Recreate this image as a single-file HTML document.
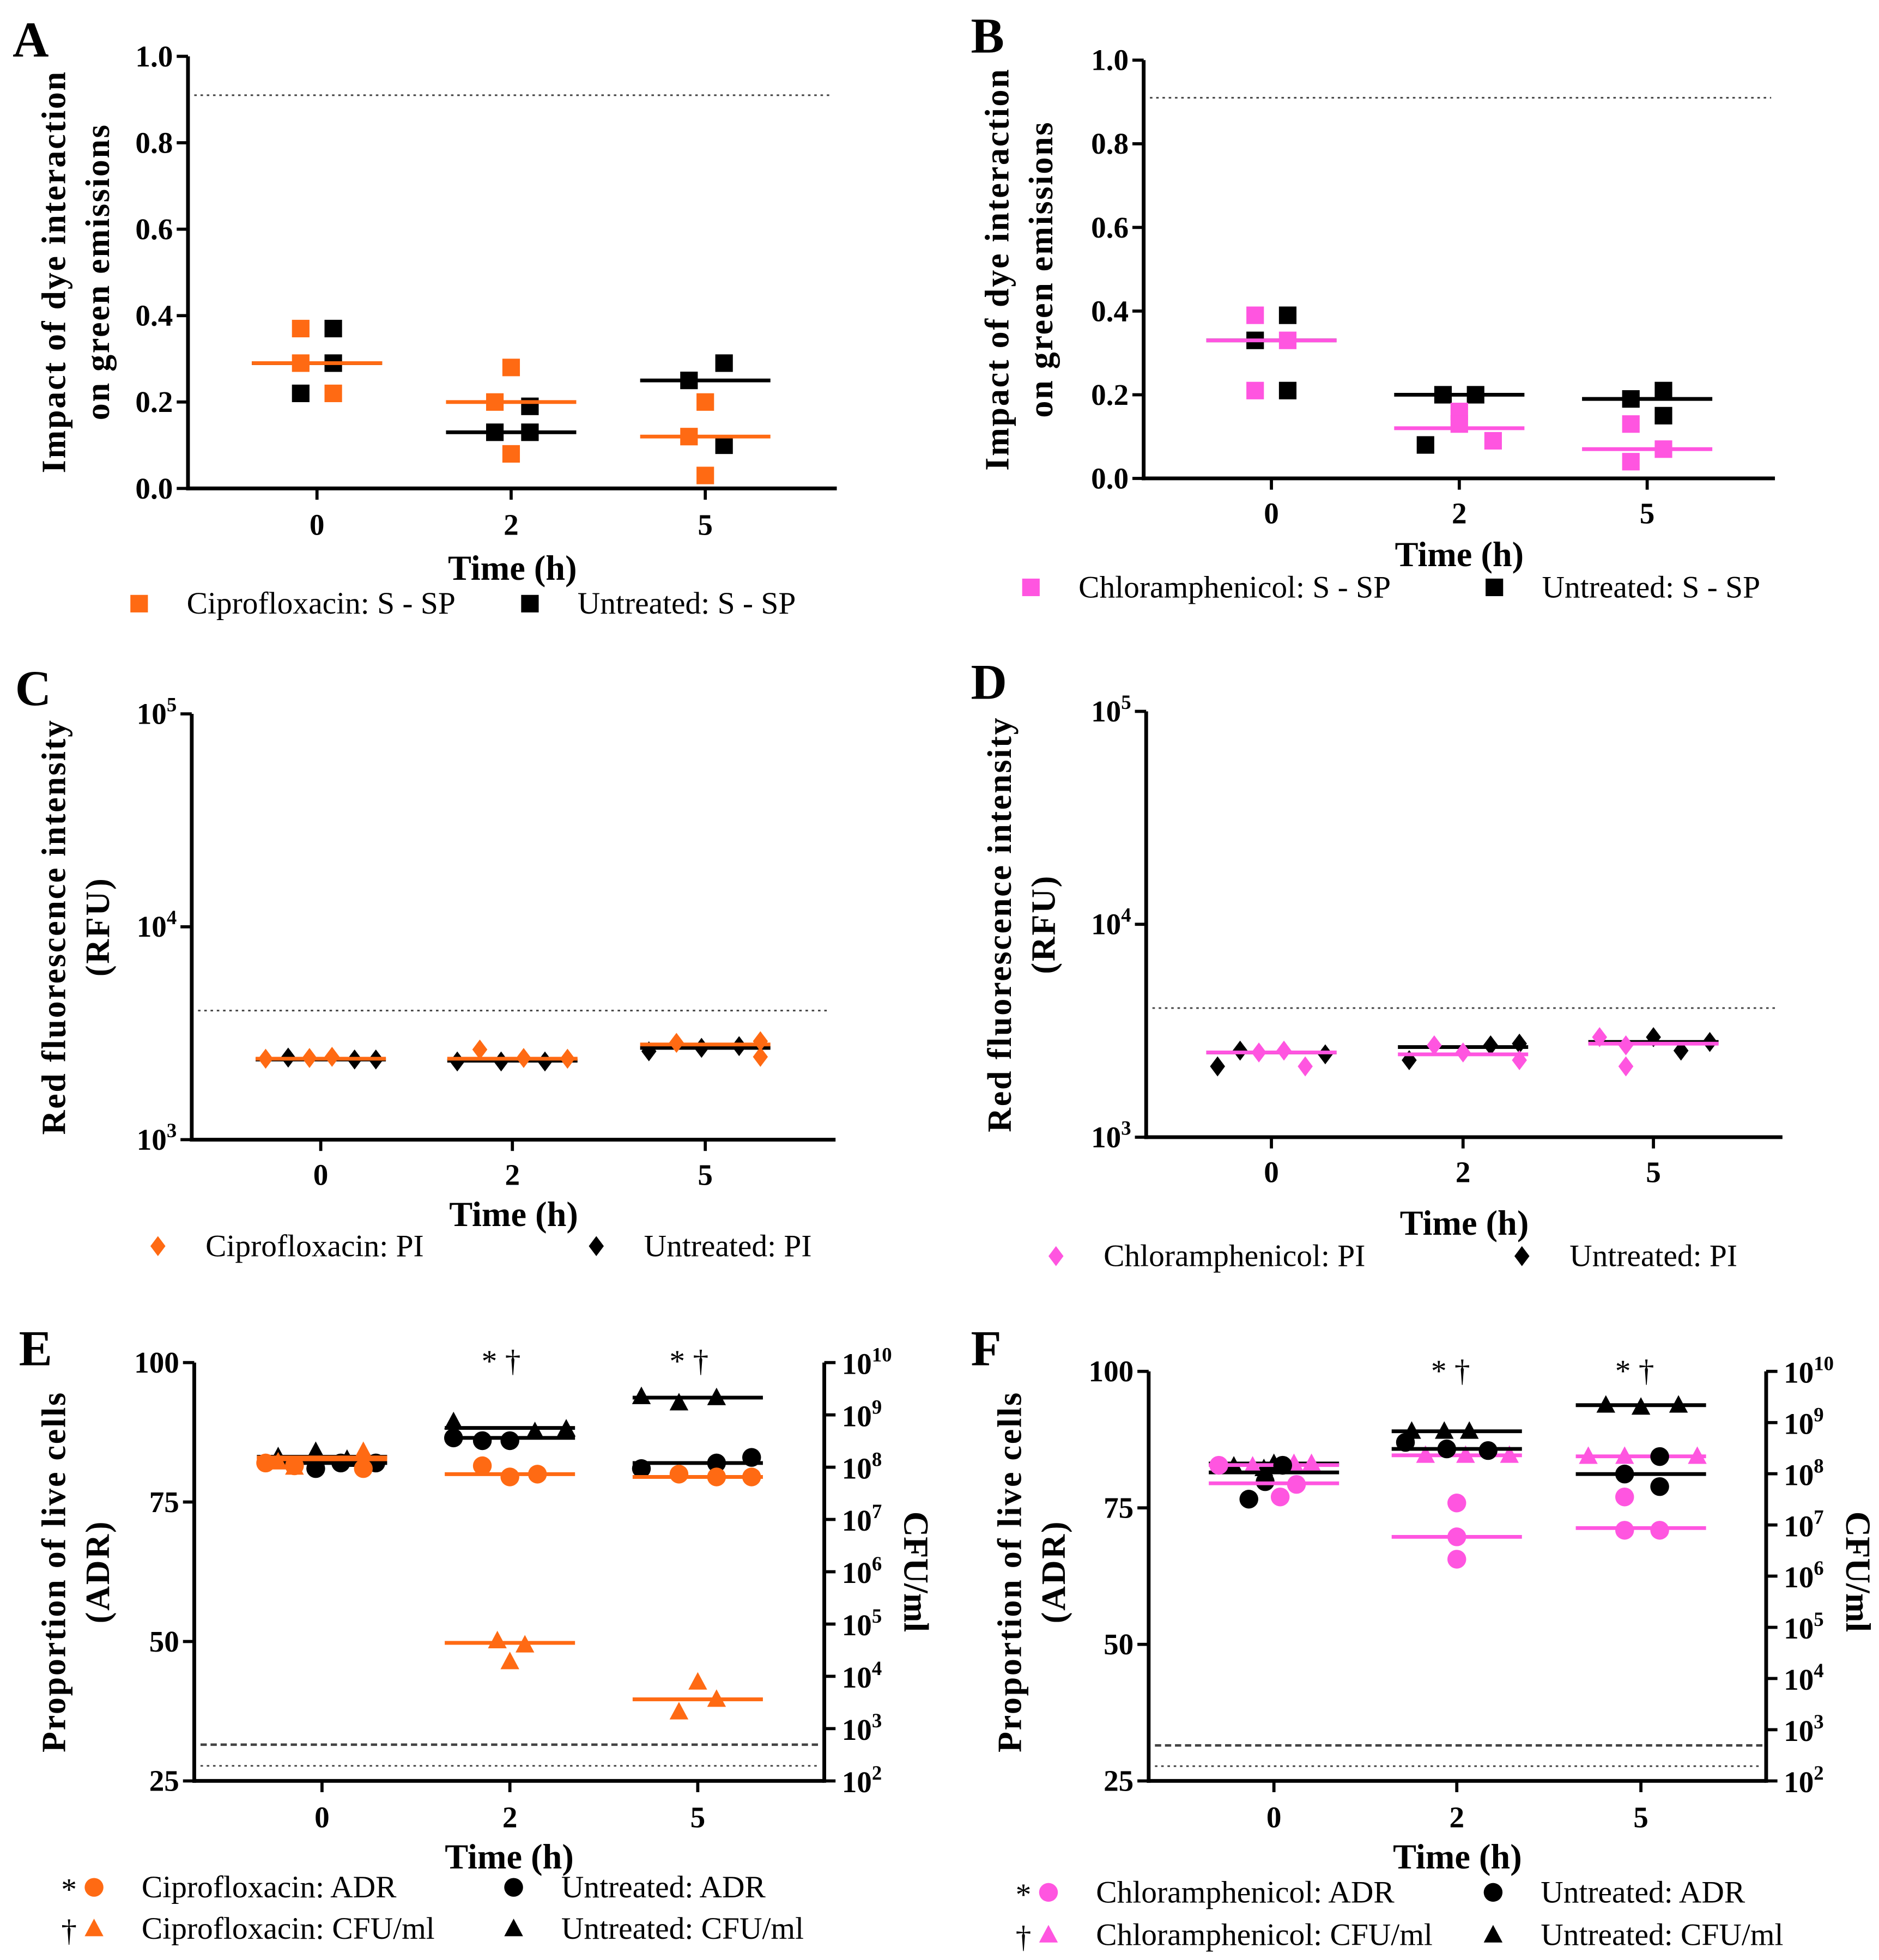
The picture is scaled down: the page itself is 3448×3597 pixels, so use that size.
<!DOCTYPE html>
<html><head><meta charset="utf-8">
<style>
html,body{margin:0;padding:0;background:#fff;}
svg{display:block;}
text{font-family:"Liberation Serif",serif;fill:#000;}
.tick{font-size:24px;font-weight:bold;}
.ttl{font-size:28px;font-weight:bold;}
.yttl{font-size:27px;font-weight:bold;letter-spacing:1.2px;}
.leg{font-size:25px;}
.pl{font-size:40px;font-weight:bold;}
</style></head>
<body>
<svg id="fig" width="3448" height="3597" viewBox="0 0 1500 1565" xmlns="http://www.w3.org/2000/svg"></svg>
<script>
// ---- data (values per time point: 0h, 2h, 5h) ----
const times = ["0","2","5"];
const aCipro = [[0.37,0.29,0.22],[0.28,0.20,0.08],[0.20,0.12,0.03]];
const aCiproMed = [0.29,0.20,0.12];
const aUntr = [[0.37,0.29,0.22],[0.19,0.13,0.13],[0.25,0.29,0.10]];
const aUntrMed = [0.29,0.13,0.25];
const bChlor = [[0.39,0.33,0.21],[0.16,0.13,0.09],[0.13,0.07,0.04]];
const bChlorMed = [0.33,0.12,0.07];
const bUntr = [[0.39,0.33,0.21],[0.20,0.20,0.08],[0.19,0.21,0.15]];
const bUntrMed = [0.33,0.20,0.19];
const cCipro = [[2400,2420,2450],[2650,2420,2400],[2850,2900,2450]];
const cCiproMed = [2400,2400,2800];
const cUntr = [[2430,2380,2380],[2330,2330,2330],[2600,2700,2750]];
const cUntrMed = [2380,2350,2700];
const dChlor = [[2500,2550,2150],[2700,2500,2300],[2950,2700,2150]];
const dChlorMed = [2500,2450,2750];
const dUntr = [[2150,2550,2450],[2300,2700,2750],[2950,2550,2800]];
const dUntrMed = [2500,2650,2800];
const eCiproAdr = [[82,81.5,81],[81.5,79.5,80],[80,79.5,79.5]];
const eCiproAdrMed = [83,80,79.5];
const eUntrAdr = [[81,82,82],[86.5,86,86],[81,82,83]];
const eUntrAdrMed = [82,86.5,82];
const eCiproCfu = [[8.1,8.0,8.3],[4.68,4.28,4.6],[3.32,3.89,3.56]];
const eCiproCfuMed = [8.15,4.64,3.56];
const eUntrCfu = [[8.2,8.3,8.15],[8.87,8.68,8.73],[9.35,9.23,9.33]];
const eUntrCfuMed = [8.2,8.75,9.33];
const fChlorAdr = [[82.8,77,79.3],[75.9,69.7,65.6],[77,70.9,70.9]];
const fChlorAdrMed = [79.5,69.7,71.3];
const fUntrAdr = [[76.6,82.8,79.8],[87,85.8,85.5],[81.2,84.4,78.9]];
const fUntrAdrMed = [81.5,85.8,81.2];
const fChlorCfu = [[8.15,8.2,8.2],[8.36,8.36,8.36],[8.34,8.34,8.34]];
const fChlorCfuMed = [8.17,8.36,8.34];
const fUntrCfu = [[8.15,8.1,8.2],[8.83,8.83,8.83],[9.34,9.3,9.34]];
const fUntrCfuMed = [8.2,8.83,9.34];

const ORANGE="#ff6a13", PINK="#ff55e0", BLACK="#000";
const NS="http://www.w3.org/2000/svg";
const svg=document.getElementById('fig');
function el(tag,attrs,parent){const e=document.createElementNS(NS,tag);for(const k in attrs)e.setAttribute(k,attrs[k]);(parent||svg).appendChild(e);return e;}
function txt(x,y,s,cls,anchor,parent){const t=el('text',{x:x,y:y,class:cls,'text-anchor':anchor||'start'},parent);t.textContent=s;return t;}

function linScale(min,max,yb,yt){return v=>yb-(v-min)/(max-min)*(yb-yt);}
function logScale(lmin,lmax,yb,yt){return v=>yb-(Math.log10(v)-lmin)/(lmax-lmin)*(yb-yt);}
function expScale(lmin,lmax,yb,yt){return v=>yb-(v-lmin)/(lmax-lmin)*(yb-yt);}

function marker(g,shape,x,y,color){
  let m;
  if(shape==='sq') m=el('rect',{x:x-7,y:y-7,width:14,height:14,fill:color},g);
  else if(shape==='di') m=el('polygon',{points:`${x},${y-8} ${x+6},${y} ${x},${y+8} ${x-6},${y}`,fill:color},g);
  else if(shape==='ci') m=el('circle',{cx:x,cy:y,r:7.5,fill:color},g);
  else m=el('polygon',{points:`${x},${y-8} ${x+7.5},${y+6} ${x-7.5},${y+6}`,fill:color},g);
  
  
  return m;
}
function series(g,name,vals,med,xs,dx,scale,shape,color){
  const sg=el('g',{},g);
  
  
  vals.forEach((arr,i)=>{
    const ml=el('line',{x1:xs[i]-52,x2:xs[i]+52,y1:scale(med[i]),y2:scale(med[i]),stroke:color,'stroke-width':3},sg);
    
    
    arr.forEach((v,j)=>marker(sg,shape,xs[i]+dx[i][j],scale(v),color));
  });
}
function axes(g,x0,x1,yb,yt,xs,xlabY,timeY){
  el('line',{x1:x0,x2:x0,y1:yt,y2:yb+1.5,stroke:'#000','stroke-width':3},g);
  el('line',{x1:x0-1.5,x2:x1,y1:yb,y2:yb,stroke:'#000','stroke-width':3},g);
  xs.forEach((x,i)=>{el('line',{x1:x,x2:x,y1:yb,y2:yb+9,stroke:'#000','stroke-width':2.5},g);
    const t=txt(x,xlabY,times[i],'tick','middle',g);});
  const tt=txt((x0+x1)/2,timeY,'Time (h)','ttl','middle',g);
}
function ytick(g,x,y,label,sup){
  el('line',{x1:x-9,x2:x,y1:y,y2:y,stroke:'#000','stroke-width':2.5},g);
  const t=txt(x-12,y+8,label,'tick','end',g);
  if(sup){const ts=el('tspan',{dy:-10,'font-size':16},t);ts.textContent=sup;}
  
}
function rytick(g,x,y,sup){
  el('line',{x1:x,x2:x+9,y1:y,y2:y,stroke:'#000','stroke-width':2.5},g);
  const t=txt(x+14,y+9,'10','tick','start',g);
  const ts=el('tspan',{dy:-10,'font-size':16},t);ts.textContent=sup;
  
}
function ytitle(g,cx,cy,lines,gap){
  lines.forEach((s,i)=>{const t=txt(0,0,s,'yttl','middle',g);t.setAttribute('transform',`translate(${cx+i*gap},${cy}) rotate(-90)`);
    });
}
function hline(g,x0,x1,y,dash,w){el('line',{x1:x0,x2:x1,y1:y,y2:y,stroke:'#444','stroke-width':w||1.3,'stroke-dasharray':dash},g);}
function legend(g,x,y,shape,color,label,pre){
  const lg=el('g',{},g);
  
  
  marker(lg,shape,x,y-8,color);
  if(pre)txt(x-20,y+2,pre,'leg','middle',lg);
  txt(x+38,y,label,'leg','start',lg);
}
function panelLetter(x,y,s){const t=txt(x,y,s,'pl','start');}

// ---- Panel A ----
(function(){
  const g=el('g',{});
  const xs=[253,408,563], s=linScale(0,1,390,45);
  [0,0.2,0.4,0.6,0.8,1.0].forEach(v=>ytick(g,150,s(v),v.toFixed(1)));
  hline(g,155,665,s(0.91),'2 3');
  series(g,'series-untreated',aUntr,aUntrMed,xs,[[13,13,-13],[15,-13,15],[-13,15,15]],s,'sq',BLACK);
  series(g,'series-ciprofloxacin',aCipro,aCiproMed,xs,[[-13,-13,13],[0,-13,0],[0,-13,0]],s,'sq',ORANGE);
  axes(g,150,668,390,45,xs,427,463);
  ytitle(g,52,217,['Impact of dye interaction','on green emissions'],35);
  legend(g,111,490,'sq',ORANGE,'Ciprofloxacin: S - SP');
  legend(g,423,490,'sq',BLACK,'Untreated: S - SP');
  panelLetter(10,45,'A');
})();
// ---- Panel B ----
(function(){
  const g=el('g',{});
  const xs=[1015,1165,1315], s=linScale(0,1,382,48);
  [0,0.2,0.4,0.6,0.8,1.0].forEach(v=>ytick(g,913,s(v),v.toFixed(1)));
  hline(g,918,1414,s(0.91),'2 3');
  series(g,'series-untreated',bUntr,bUntrMed,xs,[[13,-13,13],[-13,13,-27],[-13,13,13]],s,'sq',BLACK);
  series(g,'series-chloramphenicol',bChlor,bChlorMed,xs,[[-13,13,-13],[0,0,27],[-13,13,-13]],s,'sq',PINK);
  axes(g,913,1417,382,48,xs,418,452);
  ytitle(g,805,215,['Impact of dye interaction','on green emissions'],35);
  legend(g,823,477,'sq',PINK,'Chloramphenicol: S - SP');
  legend(g,1193,477,'sq',BLACK,'Untreated: S - SP');
  panelLetter(775,42,'B');
})();
// ---- Panel C ----
(function(){
  const g=el('g',{});
  const xs=[256,409,563], s=logScale(3,5,910,570);
  [[1000,'3'],[10000,'4'],[100000,'5']].forEach(p=>ytick(g,153,s(p[0]),'10',p[1]));
  hline(g,158,662,s(4040),'2 3');
  series(g,'series-untreated',cUntr,cUntrMed,xs,[[-26,27,44],[-44,-9,26],[-45,-3,27]],s,'di',BLACK);
  series(g,'series-ciprofloxacin',cCipro,cCiproMed,xs,[[-44,-9,9],[-26,9,44],[-23,44,44]],s,'di',ORANGE);
  axes(g,153,667,910,570,xs,946,979);
  ytitle(g,52,740,['Red fluorescence intensity','(RFU)'],35);
  legend(g,126,1003,'di',ORANGE,'Ciprofloxacin: PI');
  legend(g,476,1003,'di',BLACK,'Untreated: PI');
  panelLetter(12,563,'C');
})();
// ---- Panel D ----
(function(){
  const g=el('g',{});
  const xs=[1015,1168,1320], s=logScale(3,5,908,568);
  [[1000,'3'],[10000,'4'],[100000,'5']].forEach(p=>ytick(g,915,s(p[0]),'10',p[1]));
  hline(g,920,1418,s(4040),'2 3');
  series(g,'series-untreated',dUntr,dUntrMed,xs,[[-43,-25,43],[-43,22,45],[0,22,45]],s,'di',BLACK);
  series(g,'series-chloramphenicol',dChlor,dChlorMed,xs,[[-10,10,27],[-23,0,45],[-43,-22,-22]],s,'di',PINK);
  axes(g,915,1423,908,568,xs,944,986);
  ytitle(g,807,738,['Red fluorescence intensity','(RFU)'],35);
  legend(g,843,1011,'di',PINK,'Chloramphenicol: PI');
  legend(g,1215,1011,'di',BLACK,'Untreated: PI');
  panelLetter(775,558,'D');
})();
// ---- Panel E ----
(function(){
  const g=el('g',{});
  const xs=[257,407,557], s=linScale(25,100,1422,1088), r=expScale(2,10,1422,1088);
  [25,50,75,100].forEach(v=>ytick(g,155,s(v),String(v)));
  for(let k=2;k<=10;k++)rytick(g,658,r(k),String(k));
  el('line',{x1:658,x2:658,y1:1088,y2:1423.5,stroke:'#000','stroke-width':3},g);
  hline(g,160,655,s(31.5),'5 3',2);
  hline(g,160,655,s(27.7),'2 3');
  series(g,'series-untreated-cfu',eUntrCfu,eUntrCfuMed,xs,[[-35,-5,20],[-45,20,45],[-45,-15,15]],r,'tr',BLACK);
  series(g,'series-untreated-adr',eUntrAdr,eUntrAdrMed,xs,[[-5,15,43],[-45,-22,0],[-45,15,43]],s,'ci',BLACK);
  series(g,'series-ciprofloxacin-adr',eCiproAdr,eCiproAdrMed,xs,[[-45,-22,33],[-22,0,22],[-15,15,43]],s,'ci',ORANGE);
  series(g,'series-ciprofloxacin-cfu',eCiproCfu,eCiproCfuMed,xs,[[-35,-22,33],[-10,0,12],[-15,0,15]],r,'tr',ORANGE);
  axes(g,155,658,1422,1088,xs,1459,1492);
  ['* †','* †'].forEach((a,i)=>{const t=txt(xs[i+1]-7,1095,a,'leg','middle',g);});
  ytitle(g,52,1255,['Proportion of live cells','(ADR)'],35);
  const c=txt(0,0,'CFU/ml','ttl','middle',g);c.setAttribute('transform','translate(722,1255) rotate(90)');
  legend(g,75,1515,'ci',ORANGE,'Ciprofloxacin: ADR','*');
  legend(g,75,1548,'tr',ORANGE,'Ciprofloxacin: CFU/ml','†');
  legend(g,410,1515,'ci',BLACK,'Untreated: ADR');
  legend(g,410,1548,'tr',BLACK,'Untreated: CFU/ml');
  panelLetter(15,1090,'E');
})();
// ---- Panel F ----
(function(){
  const g=el('g',{});
  const xs=[1017,1163,1310], s=linScale(25,100,1422,1095), r=expScale(2,10,1422,1095);
  [25,50,75,100].forEach(v=>ytick(g,917,s(v),String(v)));
  for(let k=2;k<=10;k++)rytick(g,1410,r(k),String(k));
  el('line',{x1:1410,x2:1410,y1:1095,y2:1423.5,stroke:'#000','stroke-width':3},g);
  hline(g,922,1407,s(31.5),'5 3',2);
  hline(g,922,1407,s(27.7),'2 3');
  series(g,'series-untreated-cfu',fUntrCfu,fUntrCfuMed,xs,[[-32,-8,0],[-36,-10,10],[-28,0,30]],r,'tr',BLACK);
  series(g,'series-chloramphenicol-cfu',fChlorCfu,fChlorCfuMed,xs,[[-17,16,30],[-25,7,42],[-42,-13,45]],r,'tr',PINK);
  series(g,'series-untreated-adr',fUntrAdr,fUntrAdrMed,xs,[[-20,7,-7],[-41,-8,25],[-13,15,15]],s,'ci',BLACK);
  series(g,'series-chloramphenicol-adr',fChlorAdr,fChlorAdrMed,xs,[[-44,5,18],[0,0,0],[-13,-13,15]],s,'ci',PINK);
  axes(g,917,1410,1422,1095,xs,1459,1492);
  ['* †','* †'].forEach((a,i)=>{const t=txt(xs[i+1]-5,1103,a,'leg','middle',g);});
  ytitle(g,815,1255,['Proportion of live cells','(ADR)'],35);
  const c=txt(0,0,'CFU/ml','ttl','middle',g);c.setAttribute('transform','translate(1474,1255) rotate(90)');
  legend(g,837,1519,'ci',PINK,'Chloramphenicol: ADR','*');
  legend(g,837,1553,'tr',PINK,'Chloramphenicol: CFU/ml','†');
  legend(g,1192,1519,'ci',BLACK,'Untreated: ADR');
  legend(g,1192,1553,'tr',BLACK,'Untreated: CFU/ml');
  panelLetter(775,1090,'F');
})();
</script>
</body></html>
